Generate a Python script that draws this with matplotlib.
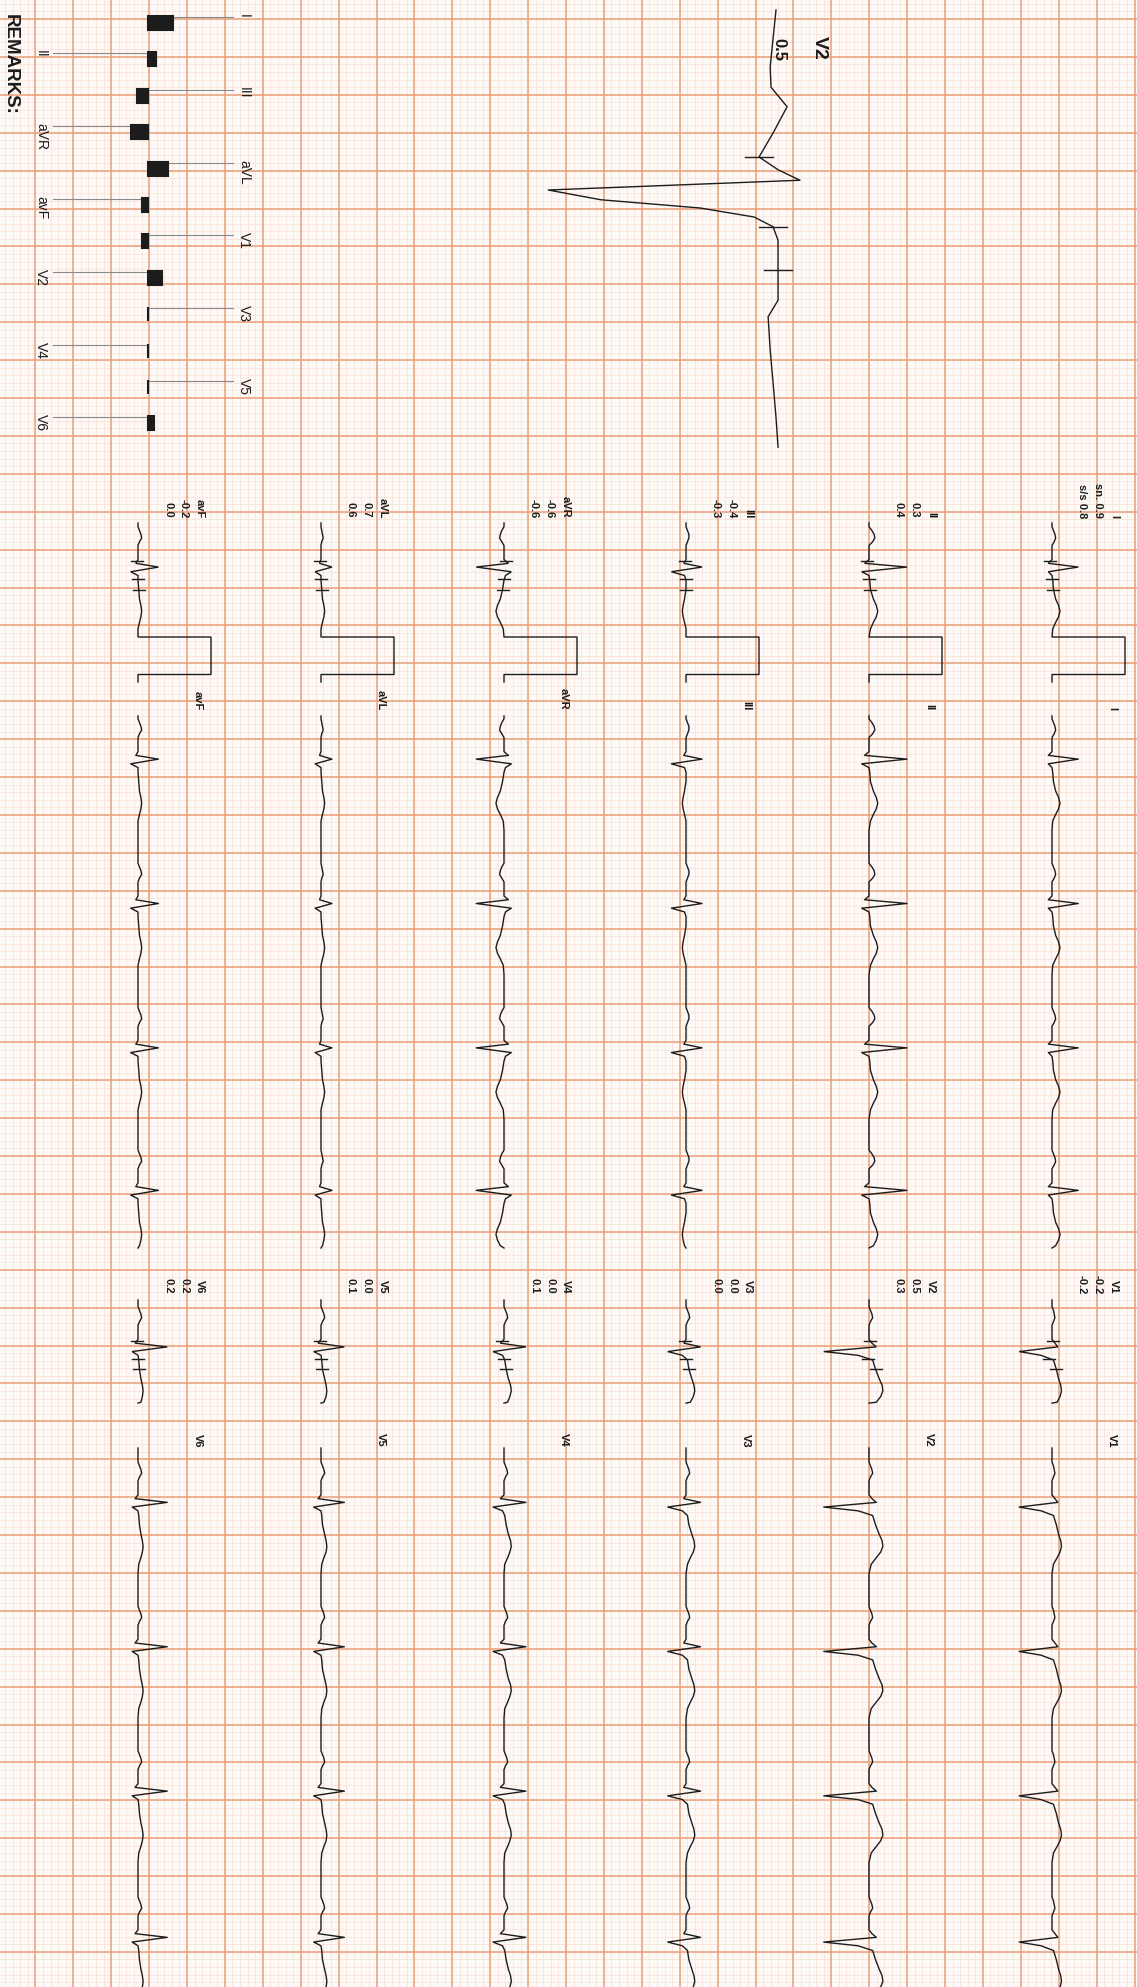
import numpy as np
import matplotlib
matplotlib.use("Agg")
import matplotlib.pyplot as plt

W, H = 1137, 1987

# recording scales on the page (pixels)
PX_PER_S = 187.5      # 25 mm/s
PX_PER_MV = 73.0      # 10 mm/mV
GRID_MAJOR = 37.9
GRID_X0, GRID_Y0 = -2.5, 19.0

LIMB_LEADS = ["I", "II", "III", "aVR", "aVL", "avF"]
CHEST_LEADS = ["V1", "V2", "V3", "V4", "V5", "V6"]
COL_X = [1052, 869, 686, 504, 321, 138]

# printed measurements (two rows per lead)
LIMB_VAL_A = [0.9, 0.3, -0.4, -0.6, 0.7, -0.2]
LIMB_VAL_B = [0.8, 0.4, -0.3, -0.6, 0.6, 0.0]
CHEST_VAL_A = [-0.2, 0.5, 0.0, 0.0, 0.0, 0.2]
CHEST_VAL_B = [-0.2, 0.3, 0.0, 0.1, 0.1, 0.2]
ROW_TITLES = ["sn.", "s/s"]

# beat template, ms from R peak, amplitude in mV per lead
BEAT_MS = [-280, -215, -195, -175, -155, -135, -115, -40, -20, 0, 25, 45,
           70, 120, 170, 205, 235, 265, 295, 330, 380, 460]
I_MV = [0, 0, 0.02, 0.04, 0.05, 0.03, 0, 0, -0.05, 0.36, -0.05, 0.0,
        0.01, 0.02, 0.05, 0.09, 0.11, 0.09, 0.05, 0.01, 0, 0]
II_MV = [0, 0, 0.04, 0.07, 0.08, 0.05, 0, 0, -0.06, 0.52, -0.10, 0.0,
         0.01, 0.02, 0.06, 0.10, 0.12, 0.10, 0.06, 0.02, 0, 0]
III_MV = [0, 0, 0.02, 0.04, 0.04, 0.02, 0, 0, -0.03, 0.22, -0.20, -0.02,
          0.0, 0.0, -0.02, -0.04, -0.05, -0.04, -0.02, 0.0, 0, 0]
AVR_MV = [0, 0, -0.03, -0.05, -0.06, -0.03, 0, 0, 0.06, -0.38, 0.10, 0.02,
          0.0, -0.02, -0.05, -0.09, -0.11, -0.09, -0.05, -0.01, 0, 0]
AVL_MV = [0, 0, 0.01, 0.02, 0.03, 0.01, 0, 0, -0.02, 0.15, -0.08, 0.0,
          0.0, 0.01, 0.02, 0.04, 0.05, 0.04, 0.02, 0.0, 0, 0]
AVF_MV = [0, 0, 0.02, 0.04, 0.05, 0.02, 0, 0, -0.03, 0.28, -0.10, 0.0,
          0.0, 0.01, 0.02, 0.04, 0.05, 0.04, 0.02, 0.0, 0, 0]
V1_MV = [0, 0, 0.02, 0.03, 0.04, 0.02, 0, 0, 0.04, 0.08, -0.45, -0.15,
         0.02, 0.06, 0.09, 0.12, 0.13, 0.11, 0.07, 0.02, 0, 0]
V2_MV = [0, 0, 0.02, 0.04, 0.05, 0.02, 0, 0, 0.04, 0.10, -0.62, -0.15,
         0.05, 0.09, 0.14, 0.18, 0.19, 0.16, 0.10, 0.03, 0, 0]
V3_MV = [0, 0, 0.02, 0.04, 0.05, 0.02, 0, 0, -0.03, 0.20, -0.25, -0.05,
         0.02, 0.04, 0.08, 0.11, 0.12, 0.10, 0.06, 0.02, 0, 0]
V4_MV = [0, 0, 0.02, 0.04, 0.05, 0.02, 0, 0, -0.05, 0.30, -0.15, -0.02,
         0.01, 0.03, 0.06, 0.09, 0.10, 0.08, 0.05, 0.01, 0, 0]
V5_MV = [0, 0, 0.02, 0.04, 0.05, 0.02, 0, 0, -0.04, 0.32, -0.10, 0.0,
         0.01, 0.02, 0.05, 0.07, 0.08, 0.07, 0.04, 0.01, 0, 0]
V6_MV = [0, 0, 0.02, 0.04, 0.05, 0.02, 0, 0, -0.04, 0.40, -0.08, 0.0,
         0.01, 0.02, 0.04, 0.06, 0.07, 0.06, 0.04, 0.01, 0, 0]
LIMB_MV = [I_MV, II_MV, III_MV, AVR_MV, AVL_MV, AVF_MV]
CHEST_MV = [V1_MV, V2_MV, V3_MV, V4_MV, V5_MV, V6_MV]

# measurement markers (onset, J point, ST) relative to R, ms
TICK_MS = [-31, 62, 120]

# rhythm strips: R peak times in seconds from strip start
LIMB_BEATS_S = [0.23, 1.00, 1.77, 2.53]
CHEST_BEATS_S = [0.29, 1.06, 1.83, 2.61]

# enlarged V2 median beat (4x), ms from start / mV
V2_ZOOM_MS = [0, 76, 103, 129, 164, 196, 213, 227, 240, 253, 264, 276,
              289, 307, 347, 387, 409, 453, 497, 543, 583]
V2_ZOOM_MV = [0, -0.02, -0.017, 0.038, -0.01, -0.058, 0.007, 0.082, -0.78,
              -0.60, -0.26, -0.075, -0.01, 0.007, 0.007, 0.007, -0.027,
              -0.02, -0.01, 0.0, 0.007]
V2_ZOOM_TICKS_MS = [196, 289, 347]
V2_ZOOM_LABEL = ("V2", "0.5")

# lead amplitude bars
BAR_LEADS = ["I", "II", "III", "aVR", "aVL", "avF",
             "V1", "V2", "V3", "V4", "V5", "V6"]
BAR_MV = LIMB_VAL_A + CHEST_VAL_A

INK = "#1c1c1c"
MAJOR_C = "#eaa07a"
MINOR_C = "#f8e0d4"
PAPER = "#fdf9f6"

fig = plt.figure(figsize=(W / 100, H / 100), dpi=100, facecolor=PAPER)
ax = fig.add_axes([0, 0, 1, 1])
ax.set_xlim(0, W)
ax.set_ylim(H, 0)
ax.axis("off")
ax.set_facecolor(PAPER)

# ---- paper grid
minor = GRID_MAJOR / 5
xs = np.arange(GRID_X0, W + 1, minor)
ys = np.arange(GRID_Y0 - GRID_MAJOR, H + 1, minor)
ax.vlines(xs, 0, H, color=MINOR_C, lw=0.5, zorder=1)
ax.hlines(ys, 0, W, color=MINOR_C, lw=0.5, zorder=1)
ax.vlines(xs[::5], 0, H, color=MAJOR_C, lw=1.1, zorder=1)
ax.hlines(ys[::5], 0, W, color=MAJOR_C, lw=1.1, zorder=1)


def strip_points(beats, mv, duration):
    t, a = [0.0], [0.0]
    for bt in beats:
        for ms, v in zip(BEAT_MS, mv):
            tt = bt + ms / 1000
            if 0 < tt < duration:
                t.append(tt)
                a.append(v)
    t.append(duration)
    a.append(0.0)
    return np.array(t), np.array(a)


def draw_ticks(x0, y0, r_s, t, a, half=6):
    for ms in TICK_MS:
        tt = r_s + ms / 1000
        xx = x0 + np.interp(tt, t, a) * PX_PER_MV
        yy = y0 + tt * PX_PER_S
        ax.plot([xx - half, xx + half], [yy, yy], color=INK, lw=1.0, zorder=3)


def draw_section(leads, mvs, val_a, val_b, snip_y, snip_r, snip_len, cal,
                 label_y, name_y, rhythm_y, rhythm_end, beats, first_titles):
    for k, (lead, mv, x0) in enumerate(zip(leads, mvs, COL_X)):
        # short median snippet with measurement markers
        t, a = strip_points([snip_r], mv, snip_len)
        if cal:
            t = np.append(t, [snip_len, snip_len + 0.2, snip_len + 0.2,
                              snip_len + 0.24])
            a = np.append(a, [1.0, 1.0, 0.0, 0.0])
        ax.plot(x0 + a * PX_PER_MV, snip_y + t * PX_PER_S, color=INK,
                lw=1.0, zorder=3, solid_joinstyle="miter")
        draw_ticks(x0, snip_y, snip_r, t, a)

        # measurement block
        va_txt = f"{val_a[k]:.1f}"
        vb_txt = f"{val_b[k]:.1f}"
        if k == 0 and first_titles:
            va_txt = f"{ROW_TITLES[0]} {va_txt}"
            vb_txt = f"{ROW_TITLES[1]} {vb_txt}"
        ax.text(x0 + 67, label_y, f"{lead}\n{va_txt}\n{vb_txt}",
                rotation=-90, ha="right", va="bottom", multialignment="right",
                fontsize=8, fontweight="bold", linespacing=1.75,
                color=INK, family="Liberation Sans", zorder=4)

        # lead name ahead of the rhythm strip
        ax.text(x0 + 60, name_y, lead, rotation=-90, ha="center",
                va="bottom", fontsize=8, fontweight="bold", color=INK,
                family="Liberation Sans", zorder=4)

        # rhythm strip
        dur = (rhythm_end - rhythm_y) / PX_PER_S
        t, a = strip_points(beats, mv, dur)
        ax.plot(x0 + a * PX_PER_MV, rhythm_y + t * PX_PER_S, color=INK,
                lw=1.0, zorder=3)


draw_section(LIMB_LEADS, LIMB_MV, LIMB_VAL_A, LIMB_VAL_B,
             snip_y=523, snip_r=0.235, snip_len=0.608, cal=True,
             label_y=518, name_y=710, rhythm_y=716, rhythm_end=1248,
             beats=LIMB_BEATS_S, first_titles=True)
draw_section(CHEST_LEADS, CHEST_MV, CHEST_VAL_A, CHEST_VAL_B,
             snip_y=1300, snip_r=0.25, snip_len=0.55, cal=False,
             label_y=1294, name_y=1447, rhythm_y=1448, rhythm_end=H + 5,
             beats=CHEST_BEATS_S, first_titles=False)

# ---- enlarged V2 median beat
zx0, zy0, zoom = 776, 10, 4.0
zt = np.array(V2_ZOOM_MS) / 1000
za = np.array(V2_ZOOM_MV)
ax.plot(zx0 + za * PX_PER_MV * zoom, zy0 + zt * PX_PER_S * zoom,
        color=INK, lw=1.0, zorder=3)
for ms in V2_ZOOM_TICKS_MS:
    tt = ms / 1000
    xx = zx0 + np.interp(tt, zt, za) * PX_PER_MV * zoom
    yy = zy0 + tt * PX_PER_S * zoom
    ax.plot([xx - 14, xx + 14], [yy, yy], color=INK, lw=1.0, zorder=3)
ax.text(819, 36, V2_ZOOM_LABEL[0], rotation=-90, ha="center", va="top",
        fontsize=14, fontweight="bold", color=INK, family="Liberation Sans")
ax.text(779, 38, V2_ZOOM_LABEL[1], rotation=-90, ha="center", va="top",
        fontsize=12, fontweight="bold", color=INK, family="Liberation Sans")

# ---- lead amplitude bars
bar_x0, bar_px_per_mv = 148, 28.0
row0, row_step, bar_h = 17, 36.4, 14
for k, (lead, v) in enumerate(zip(BAR_LEADS, BAR_MV)):
    yy = row0 + k * row_step
    ax.barh(yy + bar_h / 2 - 1, v * bar_px_per_mv, height=bar_h, left=bar_x0,
            color=INK, edgecolor=INK, lw=1.5, zorder=3)
    end = bar_x0 + v * bar_px_per_mv
    if k % 2 == 0:
        ax.plot([max(end, bar_x0), 233], [yy, yy], color="#8a8a8a", lw=0.8,
                zorder=2)
        ax.text(244, yy - 3, lead, rotation=-90, ha="center", va="top",
                fontsize=10, color=INK, family="Liberation Sans", zorder=4)
    else:
        ax.plot([53, min(end, bar_x0)], [yy, yy], color="#8a8a8a", lw=0.8,
                zorder=2)
        ax.text(41, yy - 3, lead, rotation=-90, ha="center", va="top",
                fontsize=10, color=INK, family="Liberation Sans", zorder=4)

ax.text(10, 14, "REMARKS:", rotation=-90, ha="center", va="top",
        fontsize=13.5, fontweight="bold", color=INK, family="Liberation Sans")

fig.savefig("out.png", dpi=100, facecolor=PAPER)
